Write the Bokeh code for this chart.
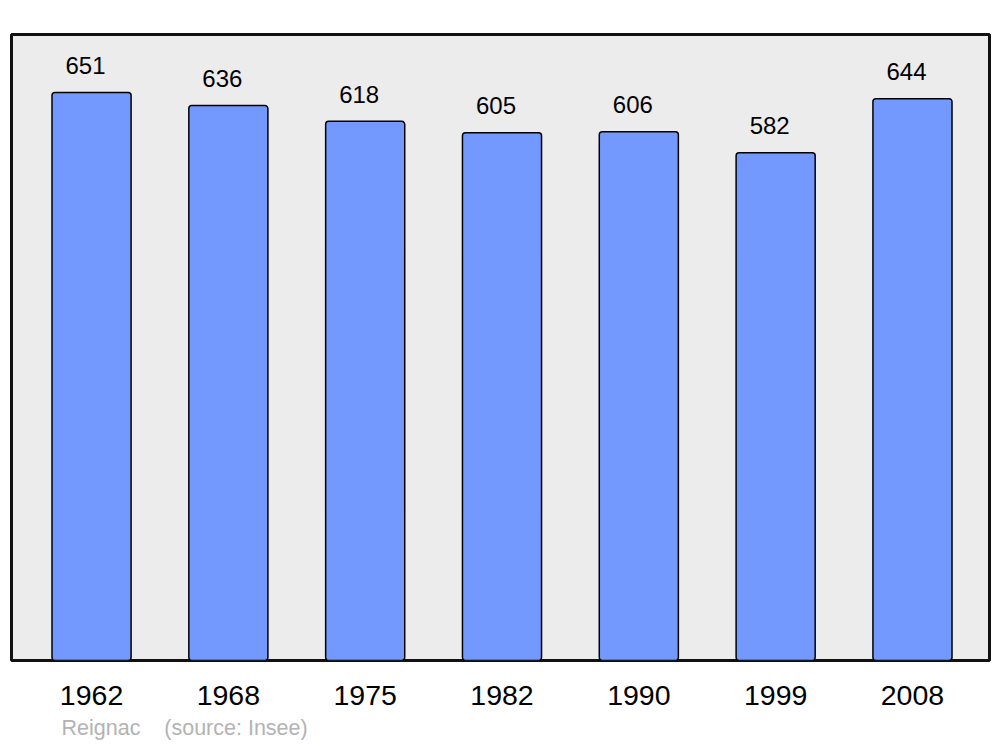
from bokeh.plotting import figure
from bokeh.models import Range1d, FixedTicker, Title, ColumnDataSource
from bokeh.core.properties import value
from bokeh.embed import file_html
from bokeh.resources import INLINE

years = ["1962", "1968", "1975", "1982", "1990", "1999", "2008"]
population = [651, 636, 618, 605, 606, 582, 644]
caption = "Reignac\u00a0\u00a0\u00a0\u00a0(source: Insee)"

FONT = "Liberation Sans"
idx = list(range(len(years)))
src = ColumnDataSource(dict(x=idx, y=population, lab=[str(v) for v in population]))

p = figure(width=1000, height=747, output_backend="svg", toolbar_location=None,
           x_range=Range1d(-0.585, len(years) - 1 + 0.563), y_range=Range1d(0, 717.5),
           min_border_left=11, min_border_right=11, min_border_top=34, min_border_bottom=87)
p.outline_line_color = "#111111"
p.outline_line_width = 3
p.background_fill_color = "#ececec"
p.border_fill_color = "white"
p.grid.visible = False
p.yaxis.visible = False

p.vbar(x="x", top="y", bottom=0, width=0.578, source=src, fill_color="#7399ff",
       line_color="black", line_width=1.5, border_radius=3)
p.text(x="x", y="y", text="lab", source=src, text_align="center", text_baseline="alphabetic",
       x_offset=-6, y_offset=-27, text_font=value(FONT), text_font_size="24px", text_color="black")

ax = p.xaxis[0]
ax.ticker = FixedTicker(ticks=idx)
ax.major_label_overrides = {i: y for i, y in zip(idx, years)}
ax.axis_line_color = None
ax.major_tick_line_color = None
ax.minor_tick_line_color = None
ax.major_label_text_font = FONT
ax.major_label_text_font_size = "28.5px"
ax.major_label_text_color = "black"
ax.major_label_standoff = 19

p.add_layout(Title(text=caption, text_font=FONT, text_font_size="21.5px", text_color="#b3b3b3",
                   text_font_style="normal", align="left", offset=50, standoff=12), "below")

open("out.html", "w").write(file_html(p, INLINE))
